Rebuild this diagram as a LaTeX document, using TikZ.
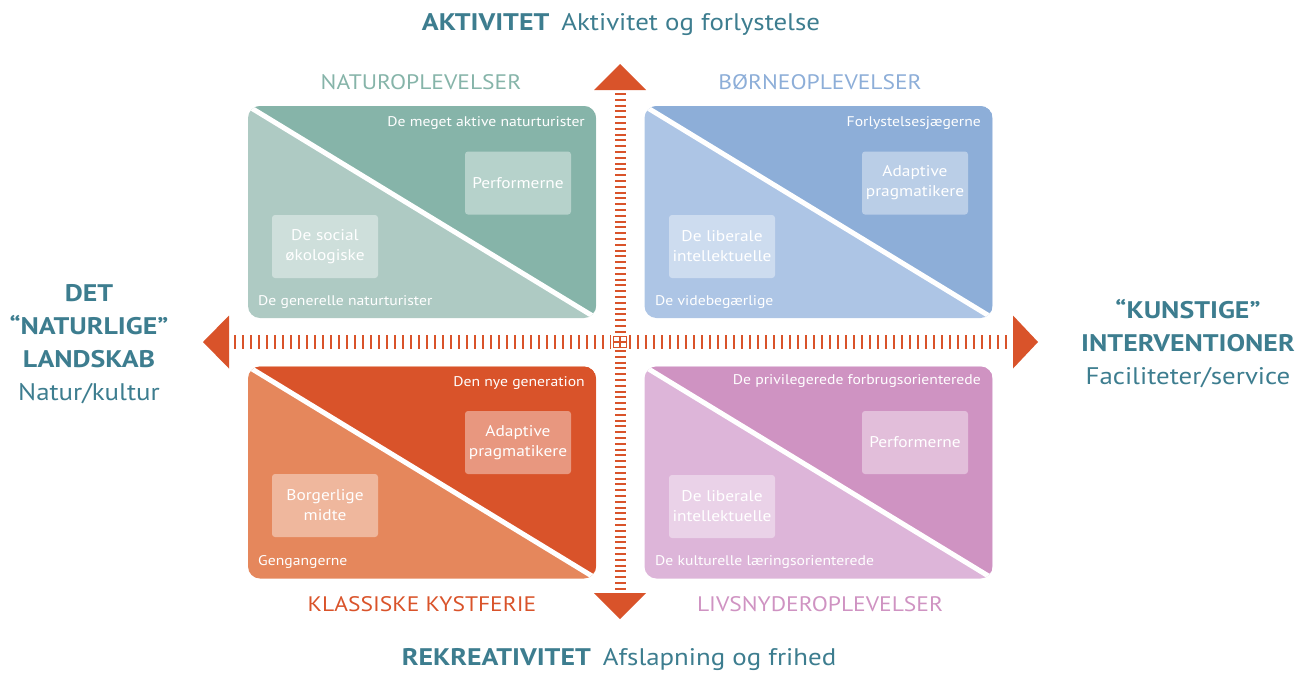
\documentclass[tikz,border=0pt]{standalone}
\usepackage{fontspec}
\setmainfont{PT Sans}[FakeStretch=1.12, BoldFeatures={FakeStretch=1.16}]
\usetikzlibrary{calc}
\definecolor{titleblue}{HTML}{3D7D8F}
\definecolor{axisorange}{HTML}{D9532A}
\definecolor{tealD}{HTML}{86B4A9}
\definecolor{tealL}{HTML}{AECAC3}
\definecolor{blueD}{HTML}{8DAED8}
\definecolor{blueL}{HTML}{ADC5E5}
\definecolor{orangeD}{HTML}{D9532A}
\definecolor{orangeL}{HTML}{E5875C}
\definecolor{pinkD}{HTML}{CF93C2}
\definecolor{pinkL}{HTML}{DDB5D9}
\tikzset{
  panel/.style n args={2}{rounded corners=12pt, fill=#2, minimum width=348pt,
    minimum height=212pt, inner sep=0pt,
    path picture={
      \fill[#1] (path picture bounding box.north west) --
        (path picture bounding box.north east) --
        (path picture bounding box.south east) -- cycle;
      \draw[white, line width=5pt] (path picture bounding box.north west) --
        (path picture bounding box.south east);
    }},
  inbox/.style={fill=white, fill opacity=0.4, text opacity=1, text=white,
    rounded corners=3pt, minimum width=106pt, minimum height=63pt,
    align=center, font=\fontsize{15.5}{20}\selectfont, inner sep=0pt},
  seglabel/.style={text=white, font=\fontsize{14}{16}\selectfont, inner sep=0pt},
  quadtitle/.style={font=\fontsize{21}{24}\selectfont, inner sep=0pt},
  axistitle/.style={text=titleblue, font=\fontsize{24}{28}\selectfont, inner sep=0pt},
  sidetitle/.style={text=titleblue, align=center, font=\fontsize{24}{33}\selectfont, inner sep=0pt},
  arrowhead/.style={fill=axisorange},
  hdash/.style={draw=axisorange, line width=14pt, dash pattern=on 2pt off 6pt},
  vdash/.style={draw=axisorange, line width=11pt, dash pattern=on 2pt off 3.8pt},
}
\begin{document}
\begin{tikzpicture}[x=1pt, y=-1pt]
\useasboundingbox (0,0) rectangle (1296,673);

% four quadrant panels
\node[panel={tealD}{tealL}]     (tl) at (422,212) {};
\node[panel={blueD}{blueL}]     (tr) at (818.5,212) {};
\node[panel={orangeD}{orangeL}] (bl) at (422,472.5) {};
\node[panel={pinkD}{pinkL}]     (br) at (818.5,472.5) {};

% segment labels along the panel edges
\node[seglabel, anchor=east] (tl-top) at (585,123) {De meget aktive naturturister};
\node[seglabel, anchor=west] (tl-bot) at (258,302) {De generelle naturturister};
\node[seglabel, anchor=east] (tr-top) at (981,123) {Forlystelsesjægerne};
\node[seglabel, anchor=west] (tr-bot) at (655,302) {De videbegærlige};
\node[seglabel, anchor=east] (bl-top) at (585,383) {Den nye generation};
\node[seglabel, anchor=west] (bl-bot) at (258,562) {Gengangerne};
\node[seglabel, anchor=east] (br-top) at (981,381) {De privilegerede forbrugsorienterede};
\node[seglabel, anchor=west] (br-bot) at (655,562) {De kulturelle læringsorienterede};

% segment boxes
\node[inbox] (tl-a) at (518,183) {Performerne};
\node[inbox] (tl-b) at (325,246.5) {De social\\økologiske};
\node[inbox] (tr-a) at (915,183) {Adaptive\\pragmatikere};
\node[inbox] (tr-b) at (722,246.5) {De liberale\\intellektuelle};
\node[inbox] (bl-a) at (518,442.5) {Adaptive\\pragmatikere};
\node[inbox] (bl-b) at (325,505.5) {Borgerlige\\midte};
\node[inbox] (br-a) at (915,442.5) {Performerne};
\node[inbox] (br-b) at (722,506.5) {De liberale\\intellektuelle};

% quadrant titles
\node[quadtitle, text=tealD]   (t-tl) at (421,82)  {NATUROPLEVELSER};
\node[quadtitle, text=blueD]   (t-tr) at (820,82)  {BØRNEOPLEVELSER};
\node[quadtitle, text=orangeD] (t-bl) at (422,604) {KLASSISKE KYSTFERIE};
\node[quadtitle, text=pinkD]   (t-br) at (820,604) {LIVSNYDEROPLEVELSER};

% axes: arrowheads and dashed shafts
\coordinate (up)    at (620,90);
\coordinate (down)  at (620,593);
\coordinate (left)  at (229,342);
\coordinate (right) at (1013,342);
\coordinate (c)     at (620,342);
\fill[arrowhead] (up) ++(-26,0) -- (620,64) -- ++(26,26) -- cycle;
\fill[arrowhead] (down) ++(-26,0) -- (620,619) -- ++(26,-26) -- cycle;
\fill[arrowhead] (left) ++(0,-26.5) -- (203,342) -- ++(26,26.5) -- cycle;
\fill[arrowhead] (right) ++(0,-26.5) -- (1038,342) -- ++(-25,26.5) -- cycle;
\draw[hdash] ($(left)+(5,0)$) -- ($(c)+(-9,0)$);
\draw[hdash] ($(c)+(9,0)$) -- ($(right)+(-2,0)$);
\draw[vdash] ($(up)+(0,3)$) -- ($(c)+(0,-8)$);
\draw[vdash] ($(c)+(0,8)$) -- ($(down)+(0,-1)$);
\draw[axisorange, line width=1.6pt] (613.5,336.5) rectangle (626.5,347.5);
\draw[axisorange, line width=1.6pt] (620,336.5) -- (620,347.5) (613.5,342) -- (626.5,342);

% axis titles
\node[axistitle] (top) at (621,25) {\textbf{AKTIVITET}\enspace Aktivitet og forlystelse};
\node[axistitle] (bottom) at (619,660) {\textbf{REKREATIVITET}\enspace Afslapning og frihed};
\node[sidetitle] (lefttitle) at (89,344) {\textbf{DET}\\\textbf{“NATURLIGE”}\\\textbf{LANDSKAB}\\Natur/kultur};
\node[sidetitle] (righttitle) at (1188,344) {\textbf{“KUNSTIGE”}\\\textbf{INTERVENTIONER}\\Faciliteter/service};
\end{tikzpicture}
\end{document}
